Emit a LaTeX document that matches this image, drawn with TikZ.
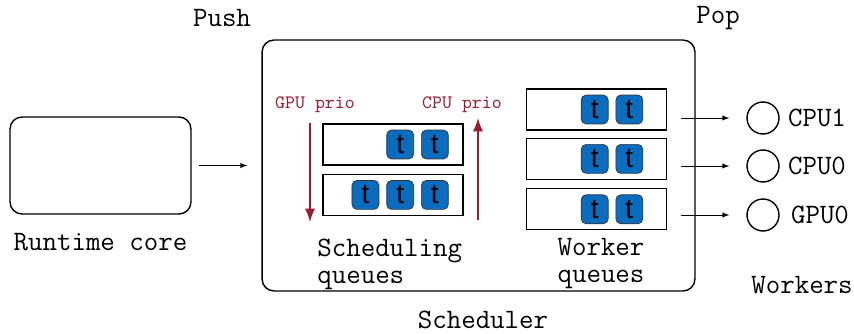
\documentclass[tikz,border=0pt]{standalone}
\usepackage{fontspec}
\newfontfamily\taskfont{Liberation Sans}
\usepackage{tikz}
\usetikzlibrary{positioning}
\definecolor{prioRed}{HTML}{9B1B30}
\definecolor{taskBlue}{HTML}{0A6CBE}

\tikzset{
	txt/.style={font=\ttfamily\fontsize{16}{15.4}\selectfont, inner sep=0pt},
	queue/.style={draw, thick, minimum width=2.8cm, minimum height=0.82cm},
	task/.style={draw=black!80, fill=taskBlue, rounded corners=0.1cm,
		minimum width=0.54cm, minimum height=0.58cm, inner sep=0pt,
		font=\taskfont\fontsize{16}{16}\selectfont},
	worker/.style={draw, thick, circle, minimum size=0.64cm, inner sep=0pt},
	prio/.style={font=\ttfamily\fontsize{10.8}{11}\selectfont, text=prioRed, inner sep=0pt},
}

\begin{document}
\begin{tikzpicture}[x=0.02cm, y=-0.02cm]
			\useasboundingbox (0,0) rectangle (854,334);

			% Runtime core
			\node [draw, thick,
				rounded corners=0.24cm,
				minimum width=3.62cm,
				minimum height=1.94cm
				] (core) at (100.5,165.5) {};
			\node [txt, below=0.36cm of core] (coretxt) {Runtime core};

			% Scheduler
			\node [draw, thick,
				rounded corners=0.24cm,
				minimum width=8.66cm,
				minimum height=5.02cm
				] (sched) at (478.5,165.5) {};
			\node [txt] (push) at (222,18) {Push};
			\node [txt] (pop) at (718,18) {Pop};
			\node [txt] (schedtxt) at (483,320) {Scheduler};

			% Scheduling queues
			\node [queue] (sq1) at (393,144.5) {};
			\node [queue, below=0.16cm of sq1] (sq2) {};
			\node [task, left=0.3cm of sq1.east] (t12) {t};
			\node [task, left=0.14cm of t12] (t11) {t};
			\node [task, left=0.3cm of sq2.east] (t23) {t};
			\node [task, left=0.14cm of t23] (t22) {t};
			\node [task, left=0.14cm of t22] (t21) {t};
			\node [txt, align=left, anchor=west] (sqtxt) at (317,264) {Scheduling\\queues};

			% Priorities
			\node [prio] (gpuprio) at (315,105) {GPU prio};
			\node [prio] (cpuprio) at (462,105) {CPU prio};
			\coordinate (gputop) at (310,123);
			\coordinate (gpubot) at (310,222);
			\coordinate (cpubot) at (478,220);
			\coordinate (cputop) at (478,118);
			\draw[-latex, prioRed, line width=1.6pt] (gputop) -- (gpubot);
			\draw[-latex, prioRed, line width=1.6pt] (cpubot) -- (cputop);

			% Worker queues
			\node [queue] (wq1) at (596.5,109.5) {};
			\node [queue, below=0.14cm of wq1] (wq2) {};
			\node [queue, below=0.16cm of wq2] (wq3) {};
			\node [task, left=0.48cm of wq1.east] (w12) {t};
			\node [task, left=0.14cm of w12] (w11) {t};
			\node [task, left=0.48cm of wq2.east] (w22) {t};
			\node [task, left=0.14cm of w22] (w21) {t};
			\node [task, left=0.48cm of wq3.east] (w32) {t};
			\node [task, left=0.14cm of w32] (w31) {t};
			\node [txt, align=center] (wqtxt) at (601,264) {Worker\\queues};

			% Workers
			\node [worker] (cpu1) at (763,118) {};
			\node [worker] (cpu0) at (763,166) {};
			\node [worker] (gpu0) at (763,215) {};
			\node [txt, right=0.16cm of cpu1] (cpu1txt) {CPU1};
			\node [txt, right=0.16cm of cpu0] (cpu0txt) {CPU0};
			\node [txt, right=0.22cm of gpu0] (gpu0txt) {GPU0};
			\node [txt] (workers) at (802,285) {Workers};

			% Arrows
			\draw[-latex, shorten <=0.14cm, shorten >=0.28cm] (core) -- (sched);
			\draw[-latex, shorten <=0.28cm, shorten >=0.34cm] (wq1.east |- cpu1) -- (cpu1);
			\draw[-latex, shorten <=0.28cm, shorten >=0.34cm] (wq2.east |- cpu0) -- (cpu0);
			\draw[-latex, shorten <=0.28cm, shorten >=0.34cm] (wq3.east |- gpu0) -- (gpu0);

		\end{tikzpicture}
\end{document}
